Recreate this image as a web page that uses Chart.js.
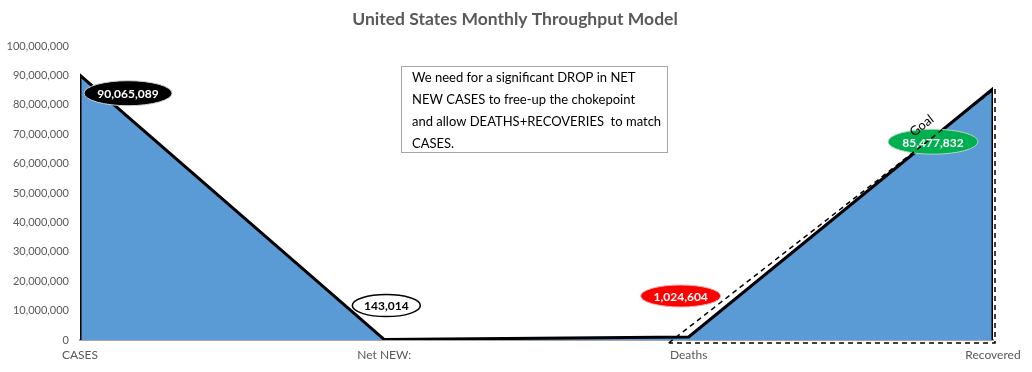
<!DOCTYPE html>
<html>
<head>
<meta charset="utf-8">
<script src="https://cdn.jsdelivr.net/npm/chart.js@4"></script>
<style>
  body { margin: 0; background: #fff; }
  #wrap { width: 1032px; height: 372px; }
</style>
</head>
<body>
<div id="wrap"><canvas id="chart" width="1032" height="372"></canvas></div>
<script>
const categories = ['CASES', 'Net NEW:', 'Deaths', 'Recovered'];
const values = [90065089, 143014, 1024604, 85477832];
const valueLabels = ['90,065,089', '143,014', '1,024,604', '85,477,832'];
const goalValue = 85477832;
const yTicks = [0, 10000000, 20000000, 30000000, 40000000, 50000000, 60000000, 70000000, 80000000, 90000000, 100000000];
const noteLines = [
  'We need for a significant DROP in NET',
  'NEW CASES to free-up the chokepoint',
  'and allow DEATHS+RECOVERIES  to match',
  'CASES.'
];

// label looks: [dx, dy, rx, ry, fill, text colour, outline]
const labelStyle = [
  [48, 18, 44, 12.5, '#000000', '#ffffff', '#d0d0d0'],
  [2, -34, 34, 11, '#ffffff', '#000000', '#000000'],
  [-8, -41, 40, 11, '#ff0000', '#ffffff', '#e8b0b0'],
  [-60, 53, 45, 12.5, '#00b050', '#ffffff', '#b0d8b8']
];

const FONT = 'Lato, "Liberation Sans", sans-serif';
const last = values.length - 1;

// closed outline: up the left edge, along the values, down the right edge
const areaPoints = [{x: 0, y: 0}]
  .concat(values.map((v, i) => ({x: i, y: v})))
  .concat([{x: last, y: 0}]);

const extras = {
  id: 'extras',
  afterDatasetsDraw(chart) {
    const ctx = chart.ctx;
    const xs = chart.scales.x, ys = chart.scales.y;

    // title
    ctx.save();
    ctx.fillStyle = '#595959';
    ctx.font = 'bold 17.5px ' + FONT;
    ctx.textAlign = 'center';
    ctx.textBaseline = 'middle';
    ctx.fillText('United States Monthly Throughput Model', 515, 19);
    ctx.restore();

    // value bubbles
    values.forEach((v, i) => {
      const s = labelStyle[i];
      const cx = xs.getPixelForValue(i) + s[0];
      const cy = ys.getPixelForValue(v) + s[1];
      ctx.save();
      ctx.beginPath();
      ctx.ellipse(cx, cy, s[2], s[3], 0, 0, Math.PI * 2);
      ctx.fillStyle = s[4];
      ctx.fill();
      ctx.lineWidth = i === 1 ? 1.5 : 1;
      ctx.strokeStyle = s[6];
      ctx.stroke();
      ctx.fillStyle = s[5];
      ctx.font = 'bold 12px ' + FONT;
      ctx.textAlign = 'center';
      ctx.textBaseline = 'middle';
      ctx.fillText(valueLabels[i], cx, cy + 1);
      ctx.restore();
    });

    // dashed goal triangle, Deaths -> Recovered
    const x0 = xs.getPixelForValue(last - 1) - 20, y0 = ys.getPixelForValue(0) + 3;
    const x1 = xs.getPixelForValue(last) + 2, y1 = ys.getPixelForValue(goalValue);
    ctx.save();
    ctx.strokeStyle = '#000';
    ctx.lineWidth = 1.5;
    ctx.setLineDash([5, 4]);
    ctx.beginPath();
    ctx.moveTo(x0, y0);
    ctx.lineTo(x1, y1);
    ctx.lineTo(x1, y0);
    ctx.lineTo(x0, y0);
    ctx.stroke();
    ctx.restore();

    // "Goal" text along the dashed line
    const ang = Math.atan2(y1 - y0, x1 - x0);
    ctx.save();
    ctx.translate(x0 + (x1 - x0) * 0.8 - 8, y0 + (y1 - y0) * 0.8 - 14);
    ctx.rotate(ang);
    ctx.fillStyle = '#000';
    ctx.font = '13px ' + FONT;
    ctx.textAlign = 'center';
    ctx.textBaseline = 'middle';
    ctx.fillText('Goal', 0, 0);
    ctx.restore();

    // note box
    ctx.save();
    ctx.fillStyle = '#fff';
    ctx.fillRect(401.5, 66.5, 266, 86);
    ctx.strokeStyle = '#a6a6a6';
    ctx.lineWidth = 1;
    ctx.strokeRect(401.5, 66.5, 266, 86);
    ctx.fillStyle = '#000';
    ctx.font = '13px ' + FONT;
    ctx.textBaseline = 'middle';
    noteLines.forEach((t, i) => ctx.fillText(t, 412, 78 + i * 22));
    ctx.restore();
  }
};

new Chart('chart', {
  type: 'line',
  data: {
    datasets: [
      {
        label: 'Throughput',
        data: areaPoints,
        fill: 'origin',
        backgroundColor: '#5b9bd5',
        borderColor: '#000000',
        borderWidth: 3,
        pointRadius: 0,
        tension: 0
      }
    ]
  },
  options: {
    responsive: false,
    animation: false,
    layout: { padding: { top: 46, right: 39, left: 0, bottom: 0 } },
    plugins: {
      legend: { display: false },
      title: { display: false },
      tooltip: { enabled: false }
    },
    scales: {
      x: {
        type: 'linear',
        min: 0,
        max: last,
        afterFit: s => { s.height = 32; },
        afterBuildTicks: s => { s.ticks = categories.map((c, i) => ({value: i})); },
        grid: { display: false, drawTicks: false },
        border: { display: true, color: '#a6a6a6', width: 2 },
        ticks: {
          padding: 8,
          color: '#595959',
          font: { family: FONT, size: 12 },
          maxRotation: 0,
          autoSkip: false,
          callback: v => categories[v]
        }
      },
      y: {
        min: 0,
        max: 100000000,
        afterFit: s => { s.width = 80; },
        afterBuildTicks: s => { s.ticks = yTicks.map(v => ({value: v})); },
        grid: { display: false, drawTicks: false },
        border: { display: false },
        ticks: {
          padding: 11,
          color: '#595959',
          font: { family: FONT, size: 11 },
          callback: v => v.toLocaleString('en-US')
        }
      }
    }
  },
  plugins: [extras]
});
</script>
</body>
</html>
